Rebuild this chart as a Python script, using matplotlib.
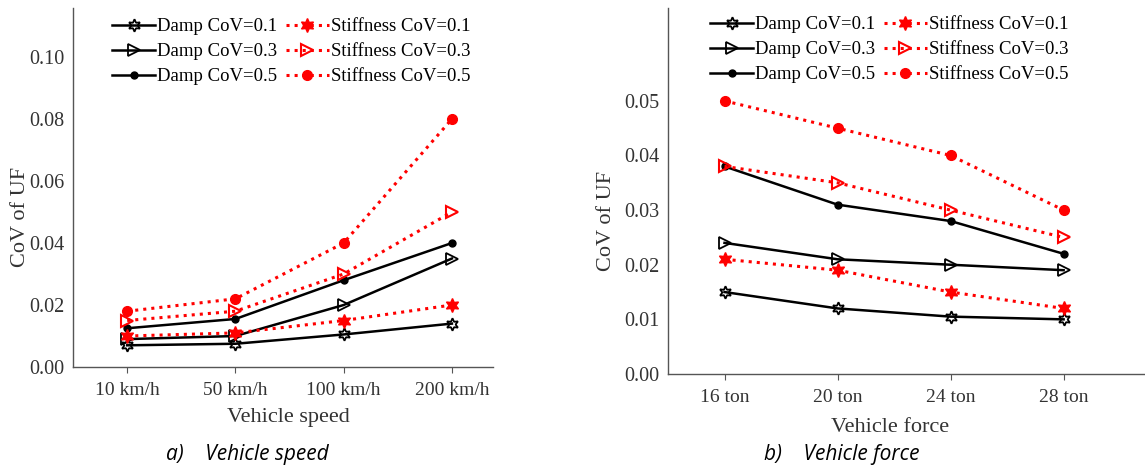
import numpy as np
import matplotlib
matplotlib.use("Agg")
from matplotlib import pyplot as plt

# left panel: vehicle speed
speed_labels = ['10 km/h', '50 km/h', '100 km/h', '200 km/h']
speed_damp_01 = [0.007, 0.0075, 0.0105, 0.014]
speed_damp_03 = [0.009, 0.010, 0.020, 0.035]
speed_damp_05 = [0.0125, 0.0155, 0.028, 0.040]
speed_stiff_01 = [0.010, 0.011, 0.015, 0.020]
speed_stiff_03 = [0.015, 0.018, 0.030, 0.050]
speed_stiff_05 = [0.018, 0.022, 0.040, 0.080]

# right panel: vehicle force
force_labels = ['16 ton', '20 ton', '24 ton', '28 ton']
force_damp_01 = [0.015, 0.012, 0.0105, 0.010]
force_damp_03 = [0.024, 0.021, 0.020, 0.019]
force_damp_05 = [0.038, 0.031, 0.028, 0.022]
force_stiff_01 = [0.021, 0.019, 0.015, 0.012]
force_stiff_03 = [0.038, 0.035, 0.030, 0.025]
force_stiff_05 = [0.050, 0.045, 0.040, 0.030]

series_names = ['Damp CoV=0.1', 'Damp CoV=0.3', 'Damp CoV=0.5',
                'Stiffness CoV=0.1', 'Stiffness CoV=0.3', 'Stiffness CoV=0.5']

plt.rcParams['font.family'] = ['Liberation Serif', 'DejaVu Serif']
plt.rcParams['font.size'] = 14

hexagram = (6, 1, 0)
black_styles = [
    dict(color='black', ls='-', lw=1.8, marker=hexagram, ms=9, mfc='none', mec='black', mew=1.3),
    dict(color='black', ls='-', lw=1.8, marker='>', ms=8, mfc='none', mec='black', mew=1.3),
    dict(color='black', ls='-', lw=1.8, marker='o', ms=5, mfc='black', mec='black'),
]
red_styles = [
    dict(color='red', ls=':', lw=2.2, marker=hexagram, ms=10, mfc='red', mec='red'),
    dict(color='red', ls=':', lw=2.2, marker='>', ms=8, mfc='none', mec='red', mew=1.5),
    dict(color='red', ls=':', lw=2.2, marker='o', ms=7, mfc='red', mec='red'),
]


def draw_panel(ax, labels, damp, stiff, ymax, yticks, xmax, xlabel,
               ylab_xy, xlab_xy, leg_xy):
    x = np.arange(len(labels))
    lines = []
    for vals, st in zip(damp, black_styles):
        lines.append(ax.plot(x, vals, **st)[0])
    for vals, st in zip(stiff, red_styles):
        lines.append(ax.plot(x, vals, **st)[0])
    ax.set_xlim(-0.5, xmax)
    ax.set_ylim(0, ymax)
    ax.set_xticks(x)
    ax.set_xticklabels(labels)
    ax.set_yticks(yticks)
    ax.set_yticklabels(['%.2f' % v for v in yticks])
    ax.spines['top'].set_visible(False)
    ax.spines['right'].set_visible(False)
    for s in ['left', 'bottom']:
        ax.spines[s].set_color('#555555')
        ax.spines[s].set_linewidth(1.0)
    ax.tick_params(axis='x', direction='out', length=4, color='#555555',
                   labelcolor='#333333', labelsize=14, pad=7)
    ax.tick_params(axis='y', length=0, labelcolor='#333333', labelsize=14.5, pad=6)
    ax.set_xlabel(xlabel, fontsize=16, color='#333333')
    ax.set_ylabel('CoV of UF', fontsize=16, color='#333333')
    ax.yaxis.set_label_coords(*ylab_xy)
    ax.xaxis.set_label_coords(*xlab_xy)
    ax.legend(lines, series_names, ncol=2, loc='upper left', frameon=False,
              fontsize=13.5, handlelength=2.3, handletextpad=0.1, columnspacing=0.45,
              labelspacing=0.42, borderaxespad=0, borderpad=0,
              bbox_to_anchor=leg_xy)


fig = plt.figure(figsize=(11.45, 4.68), dpi=100)
ax1 = fig.add_axes([0.0638, 0.2158, 0.3668, 0.767])
ax2 = fig.add_axes([0.5834, 0.2009, 0.4166, 0.782])

draw_panel(ax1, speed_labels,
           [speed_damp_01, speed_damp_03, speed_damp_05],
           [speed_stiff_01, speed_stiff_03, speed_stiff_05],
           0.1158, [0.0, 0.02, 0.04, 0.06, 0.08, 0.10], 3.38, 'Vehicle speed',
           (-0.102, 0.418), (0.512, -0.114), (0.093, 0.972))
draw_panel(ax2, force_labels,
           [force_damp_01, force_damp_03, force_damp_05],
           [force_stiff_01, force_stiff_03, force_stiff_05],
           0.067, [0.0, 0.01, 0.02, 0.03, 0.04, 0.05], 3.72, 'Vehicle force',
           (-0.108, 0.418), (0.465, -0.119), (0.088, 0.978))

fig.text(0.2157, 0.028, 'a)    Vehicle speed', family='Open Sans', style='italic',
         fontsize=15, ha='center', va='center')
fig.text(0.735, 0.028, 'b)    Vehicle force', family='Open Sans', style='italic',
         fontsize=15, ha='center', va='center')

fig.savefig('out.png', dpi=100)
